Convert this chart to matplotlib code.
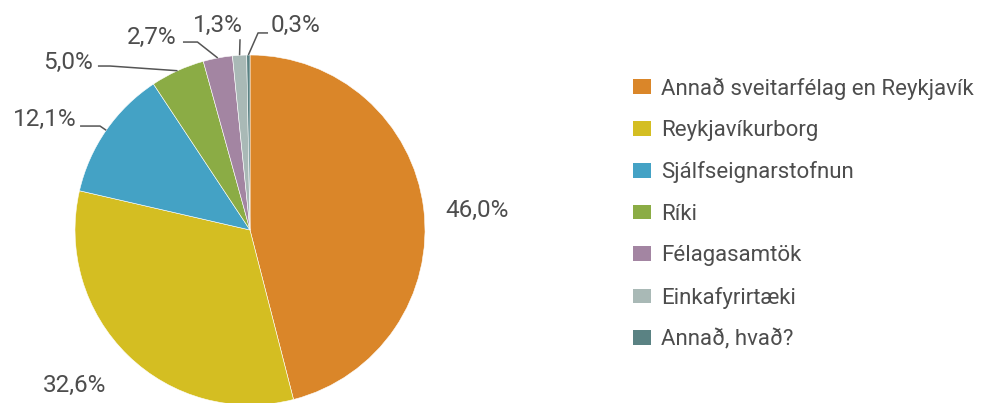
import numpy as np
import matplotlib.pyplot as plt
from matplotlib.patches import Patch

plt.rcParams['font.family'] = ['Roboto', 'DejaVu Sans']

# --- data ---
categories = ['Annað sveitarfélag en Reykjavík', 'Reykjavíkurborg', 'Sjálfseignarstofnun',
              'Ríki', 'Félagasamtök', 'Einkafyrirtæki', 'Annað, hvað?']
shares = [46.0, 32.6, 12.1, 5.0, 2.7, 1.3, 0.3]
colors = ['#DA8629', '#D4BE22', '#44A2C5', '#8BAC45', '#A385A2', '#A9B9B6', '#5A8283']

# label layout in pie units (radius = 1): text pos, ha, elbow point (None = no leader)
label_pos = [(1.30, 0.11), (-1.0, -0.886), (-0.99, 0.63), (-0.90, 0.96),
             (-0.42, 1.10), (-0.04, 1.17), (0.12, 1.17)]
label_ha = ['center', 'center', 'right', 'right', 'right', 'right', 'left']
elbows = [None, None, (-0.857, 0.594), (-0.80, 0.937), (-0.30, 1.074),
          (-0.057, 1.09), (0.046, 1.126)]
line_start = [None, None, (-0.971, 0.594), (-0.869, 0.937), (-0.383, 1.074),
              (-0.057, 1.09), (0.103, 1.126)]

text_color = '#4d4d4d'

fig = plt.figure(figsize=(9.82, 4.03), dpi=100)
ax = fig.add_axes([75 / 982, (403 - 230 - 175) / 403, 350 / 982, 350 / 403])
wedges, _ = ax.pie(shares, colors=colors, startangle=90, counterclock=False,
                   radius=1, wedgeprops=dict(edgecolor='white', linewidth=0.4))
ax.set_xlim(-1, 1)
ax.set_ylim(-1, 1)
ax.set_aspect('equal')
ax.axis('off')

for i, w in enumerate(wedges):
    txt = f"{shares[i]:.1f}%".replace('.', ',')
    ax.text(label_pos[i][0], label_pos[i][1], txt, ha=label_ha[i], va='center',
            fontsize=17.5, color=text_color, clip_on=False)
    if elbows[i] is not None:
        ang = np.deg2rad((w.theta1 + w.theta2) / 2)
        edge = (np.cos(ang), np.sin(ang))
        xs = [line_start[i][0], elbows[i][0], edge[0]]
        ys = [line_start[i][1], elbows[i][1], edge[1]]
        ax.plot(xs, ys, color='#555555', lw=1.1, clip_on=False,
                solid_capstyle='butt')

handles = [Patch(facecolor=c, edgecolor='none') for c in colors]
fig.legend(handles, categories, loc='upper left', bbox_to_anchor=(613 / 982, 1 - 57 / 403),
           frameon=False, fontsize=16, labelcolor=text_color, handlelength=0.82,
           handleheight=0.64, handletextpad=0.45, labelspacing=0.92)

fig.savefig('out.png', dpi=100)
